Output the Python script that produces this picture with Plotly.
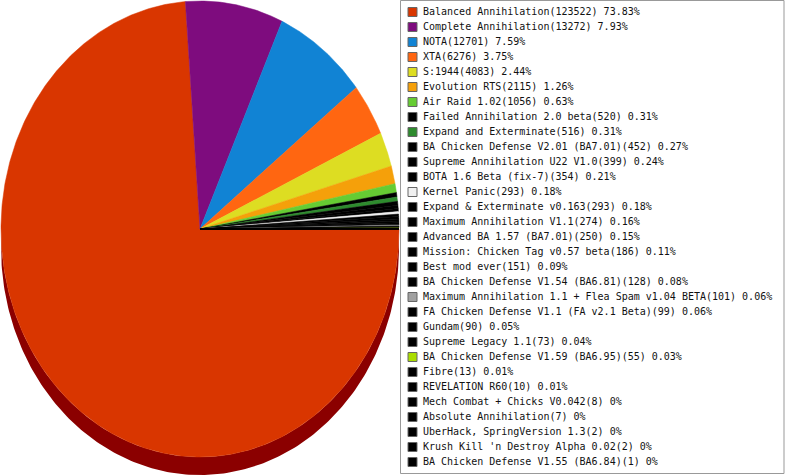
import numpy as np
import plotly.graph_objects as go

# mods and player counts, in the order they appear in the legend
mods = [
    "Balanced Annihilation", "Complete Annihilation", "NOTA", "XTA", "S:1944",
    "Evolution RTS", "Air Raid 1.02", "Failed Annihilation 2.0 beta",
    "Expand and Exterminate", "BA Chicken Defense V2.01 (BA7.01)",
    "Supreme Annihilation U22 V1.0", "BOTA 1.6 Beta (fix-7)", "Kernel Panic",
    "Expand & Exterminate v0.163", "Maximum Annihilation V1.1",
    "Advanced BA 1.57 (BA7.01)", "Mission: Chicken Tag v0.57 beta",
    "Best mod ever", "BA Chicken Defense V1.54 (BA6.81)",
    "Maximum Annihilation 1.1 + Flea Spam v1.04 BETA",
    "FA Chicken Defense V1.1 (FA v2.1 Beta)", "Gundam", "Supreme Legacy 1.1",
    "BA Chicken Defense V1.59 (BA6.95)", "Fibre", "REVELATION R60",
    "Mech Combat + Chicks V0.042", "Absolute Annihilation",
    "UberHack, SpringVersion 1.3", "Krush Kill 'n Destroy Alpha 0.02",
    "BA Chicken Defense V1.55 (BA6.84)",
]
players = [123522, 13272, 12701, 6276, 4083, 2115, 1056, 520, 516, 452, 399,
           354, 293, 293, 274, 250, 186, 151, 128, 101, 99, 90, 73, 55, 13,
           10, 8, 7, 2, 2, 1]
colors = ["#d93600", "#7e0c7e", "#1183d4", "#ff6611", "#dddd22", "#f5a00a",
          "#66cc33", "#000000", "#2e8b2e", "#000000", "#000000", "#000000",
          "#f0f0f0", "#000000", "#000000", "#000000", "#000000", "#000000",
          "#000000", "#a0a0a0", "#000000", "#000000", "#000000", "#aadd00",
          "#000000", "#000000", "#000000", "#000000", "#000000", "#000000",
          "#000000"]

total = sum(players)
shares = [p / total for p in players]
labels = [f"{m}({p}) {round(s * 100, 2):g}%" for m, p, s in zip(mods, players, shares)]

fig = go.Figure()

# 3D edge of the pie (only the lower half shows)
depth = 0.079
t = np.linspace(0, -np.pi, 200)
side_x = np.concatenate([np.cos(t), np.cos(t[::-1])])
side_y = np.concatenate([np.sin(t), np.sin(t[::-1]) - depth])
fig.add_trace(go.Scatter(x=side_x, y=side_y, mode='lines', fill='toself',
                         fillcolor='#8b0000', line=dict(width=0),
                         hoverinfo='skip'))

# slices, starting at 3 o'clock and going clockwise
start = 0.0
for share, color, label in zip(shares, colors, labels):
    a0, a1 = -2 * np.pi * start, -2 * np.pi * (start + share)
    arc = np.linspace(a0, a1, max(2, int(share * 720) + 2))
    xs = np.concatenate([[0], np.cos(arc), [0]])
    ys = np.concatenate([[0], np.sin(arc), [0]])
    fig.add_trace(go.Scatter(x=xs, y=ys, mode='lines', fill='toself',
                             fillcolor=color, line=dict(width=0.5, color=color),
                             name=label, hoverinfo='name'))
    start += share

# hand-made legend on its own axes
rows = list(range(len(mods)))
fig.add_trace(go.Scatter(x=[12.5] * len(rows), y=rows, mode='markers',
                         marker=dict(symbol='square', size=9, color=colors,
                                     line=dict(color='#666666', width=1)),
                         xaxis='x2', yaxis='y2', hoverinfo='skip'))
fig.add_trace(go.Scatter(x=[23] * len(rows), y=rows, mode='text', text=labels,
                         textposition='middle right',
                         textfont=dict(family='DejaVu Sans Mono', size=10, color='#111111'),
                         xaxis='x2', yaxis='y2', hoverinfo='skip'))

fig.update_layout(
    width=785, height=475, margin=dict(l=0, r=0, t=0, b=0),
    showlegend=False, plot_bgcolor='white', paper_bgcolor='white',
    xaxis=dict(domain=[0, 400 / 785], range=[-1.005, 1.005], visible=False, fixedrange=True),
    yaxis=dict(domain=[0, 1], range=[-1 - 18 / 228, 1 + 1 / 228], visible=False, fixedrange=True),
    xaxis2=dict(domain=[400 / 785, 1], range=[0, 385], visible=False, fixedrange=True, anchor='y2'),
    yaxis2=dict(domain=[0, 1], range=[(475 - 12) / 15, -12 / 15], visible=False, fixedrange=True, anchor='x2'),
    shapes=[dict(type='rect', xref='paper', yref='paper',
                 x0=400.5 / 785, x1=784 / 785, y0=1.5 / 475, y1=474.5 / 475,
                 line=dict(color='#999999', width=1))],
)

# drop the browser's default body margin so the figure sits at the corner
fig.write_html("out.html", config={'displayModeBar': False},
               post_script="document.body.style.margin = '0';")
